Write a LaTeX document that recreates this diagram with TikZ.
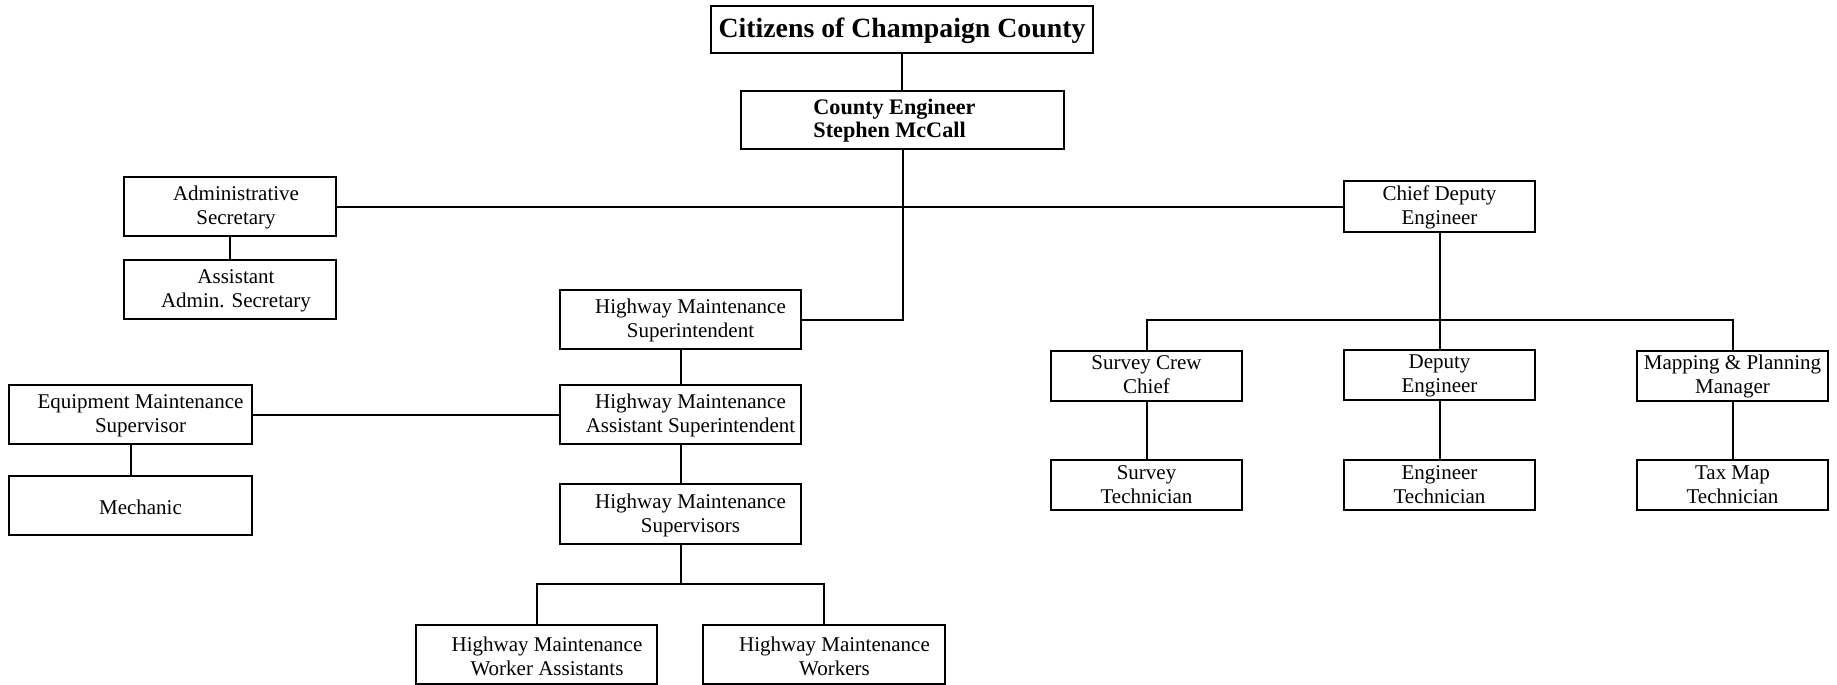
\documentclass[tikz,border=0pt]{standalone}
\usepackage{fontspec}
\setmainfont{Liberation Serif}
% #1 vertical shift, #2 horizontal kern (twice the shift), #3 lines
\newcommand\bt[3][-0.5pt]{\kern#2\raisebox{#1}[\height][\depth]{\begin{tabular}{@{}c@{}}#3\end{tabular}}}
\begin{document}
\begin{tikzpicture}[x=0.5pt,y=-0.5pt,
  box/.style={draw, line width=1pt, inner sep=0pt, font=\fontsize{10.5pt}{11.8pt}\selectfont},
  conn/.style={line width=1pt}]
\path[fill=white,use as bounding box] (0,0) rectangle (1837,685);
% top
\node[box, minimum width=191pt, minimum height=23.5pt, font=\fontsize{13.9pt}{15pt}\selectfont\bfseries] (cit) at (902,29.5) {\raisebox{-0.5pt}[\height][\depth]{Citizens of Champaign County}};
\node[box, minimum width=161.5pt, minimum height=29pt, font=\fontsize{11.1pt}{11.6pt}\selectfont\bfseries] (ce) at (902.5,120) {\kern-8pt\raisebox{-0.75pt}[\height][\depth]{\begin{tabular}{@{}l@{}}County Engineer\\Stephen McCall\end{tabular}}};
% left admin
\node[box, minimum width=106pt, minimum height=29.5pt] (admin) at (230,206.5) {\bt{6pt}{Administrative\\Secretary}};
\node[box, minimum width=106pt, minimum height=29.5pt] (asstadmin) at (230,289.5) {\bt{6pt}{Assistant\\Admin. Secretary}};
% chief deputy
\node[box, minimum width=95.5pt, minimum height=25.5pt] (chief) at (1439.5,206.5) {\bt[-0.75pt]{0pt}{Chief Deputy\\Engineer}};
% highway maintenance column
\node[box, minimum width=120.5pt, minimum height=29.5pt] (hms) at (680.5,319.5) {\bt{10pt}{Highway Maintenance\\Superintendent}};
\node[box, minimum width=120.5pt, minimum height=29.5pt] (hmas) at (680.5,414.5) {\bt{10pt}{Highway Maintenance\\Assistant Superintendent}};
\node[box, minimum width=120.5pt, minimum height=30pt] (hmsup) at (680.5,514) {\bt[-0.75pt]{10pt}{Highway Maintenance\\Supervisors}};
\node[box, minimum width=121.5pt, minimum height=29.5pt] (ems) at (130.5,414.5) {\bt{10pt}{Equipment Maintenance\\Supervisor}};
\node[box, minimum width=121.5pt, minimum height=29.5pt] (mech) at (130.5,505.5) {\bt[-2.3pt]{10pt}{Mechanic}};
\node[box, minimum width=120.5pt, minimum height=29.5pt] (hmwa) at (536.5,654.5) {\bt[-2pt]{10.5pt}{Highway Maintenance\\Worker Assistants}};
\node[box, minimum width=121pt, minimum height=29.5pt] (hmw) at (824,654.5) {\bt[-2pt]{10.5pt}{Highway Maintenance\\Workers}};
% right side
\node[box, minimum width=95.5pt, minimum height=25pt] (scc) at (1146.5,376) {\bt{0pt}{Survey Crew\\Chief}};
\node[box, minimum width=95.5pt, minimum height=25pt] (de) at (1439.5,375) {\bt{0pt}{Deputy\\Engineer}};
\node[box, minimum width=95.5pt, minimum height=25pt] (mpm) at (1732.5,376) {\bt{0pt}{Mapping \& Planning\\Manager}};
\node[box, minimum width=95.5pt, minimum height=25pt] (st) at (1146.5,485) {\bt[-0.75pt]{0pt}{Survey\\Technician}};
\node[box, minimum width=95.5pt, minimum height=25pt] (et) at (1439.5,485) {\bt[-0.75pt]{0pt}{Engineer\\Technician}};
\node[box, minimum width=95.5pt, minimum height=25pt] (tmt) at (1732.5,485) {\bt[-0.75pt]{0pt}{Tax Map\\Technician}};
% bus coordinates
\coordinate (rbus) at (0,320);
\coordinate (lbus) at (0,584);
% connectors
\draw[conn] (cit.south) -- (cit.south |- ce.north);
\draw[conn] (ce.south) |- (hms.east);
\draw[conn] (admin.east) -- (chief.west);
\draw[conn] (admin) -- (asstadmin);
\draw[conn] (chief.south) -- (chief.south |- rbus);
\draw[conn] (scc.north) |- (mpm.north |- rbus) -- (mpm.north);
\draw[conn] (de.north) -- (de.north |- rbus);
\draw[conn] (scc) -- (st);
\draw[conn] (de) -- (et);
\draw[conn] (mpm) -- (tmt);
\draw[conn] (hms) -- (hmas);
\draw[conn] (ems.east) -- (hmas.west);
\draw[conn] (ems) -- (mech);
\draw[conn] (hmas) -- (hmsup);
\draw[conn] (hmsup.south) -- (hmsup.south |- lbus);
\draw[conn] (hmwa.north) |- (hmw.north |- lbus) -- (hmw.north);
\end{tikzpicture}
\end{document}
